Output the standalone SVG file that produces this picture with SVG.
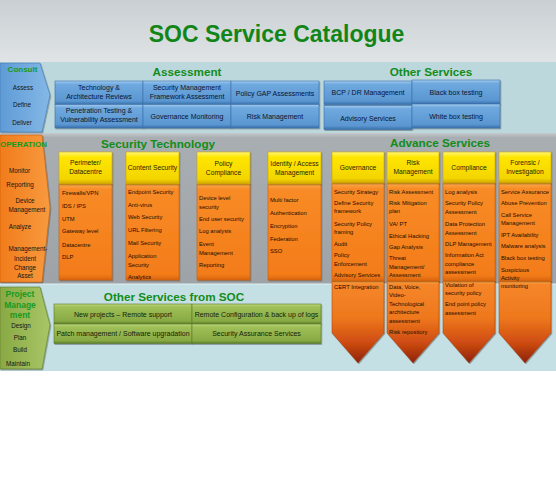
<svg xmlns="http://www.w3.org/2000/svg" width="556" height="480" viewBox="0 0 556 480">
<defs>
<linearGradient id="gTop" x1="0" y1="0" x2="0" y2="1"><stop offset="0" stop-color="#c9cfd3"/><stop offset="1" stop-color="#e0e4e6"/></linearGradient>
<linearGradient id="gGray" x1="0" y1="0" x2="0" y2="1"><stop offset="0" stop-color="#c6cacd"/><stop offset="0.03" stop-color="#a9aeb2"/><stop offset="1" stop-color="#9ea3a8"/></linearGradient>
<linearGradient id="gBlue" x1="0" y1="0" x2="0" y2="1"><stop offset="0" stop-color="#a3cbef"/><stop offset="0.14" stop-color="#6fa9df"/><stop offset="0.85" stop-color="#5a96d1"/><stop offset="1" stop-color="#3a70ac"/></linearGradient>
<linearGradient id="gYel" x1="0" y1="0" x2="0" y2="1"><stop offset="0" stop-color="#fff77e"/><stop offset="0.16" stop-color="#ffe600"/><stop offset="0.85" stop-color="#f3d500"/><stop offset="1" stop-color="#cfa400"/></linearGradient>
<linearGradient id="gOr" x1="0" y1="0" x2="0" y2="1"><stop offset="0" stop-color="#fbaa4c"/><stop offset="0.06" stop-color="#f88b26"/><stop offset="0.94" stop-color="#f37c19"/><stop offset="1" stop-color="#d9650d"/></linearGradient>
<linearGradient id="gChev" x1="0" y1="0" x2="0" y2="1"><stop offset="0" stop-color="#fbb24e"/><stop offset="0.04" stop-color="#f6862a"/><stop offset="0.45" stop-color="#ee781d"/><stop offset="0.75" stop-color="#cf4c12"/><stop offset="1" stop-color="#8c2208"/></linearGradient>
<linearGradient id="gGrn" x1="0" y1="0" x2="0" y2="1"><stop offset="0" stop-color="#bcd57a"/><stop offset="0.16" stop-color="#9fbf58"/><stop offset="0.85" stop-color="#88aa44"/><stop offset="1" stop-color="#5e7e28"/></linearGradient>
<linearGradient id="gCons" x1="0" y1="0" x2="1" y2="0"><stop offset="0" stop-color="#5f9bd6"/><stop offset="1" stop-color="#84b8e6"/></linearGradient>
<linearGradient id="gOp" x1="0" y1="0" x2="1" y2="0"><stop offset="0" stop-color="#f17c1c"/><stop offset="1" stop-color="#f89a3e"/></linearGradient>
<linearGradient id="gPm" x1="0" y1="0" x2="1" y2="0"><stop offset="0" stop-color="#89a944"/><stop offset="1" stop-color="#a8c666"/></linearGradient>
<filter id="sh" x="-10%" y="-10%" width="125%" height="130%"><feDropShadow dx="0.8" dy="1" stdDeviation="0.7" flood-color="#000" flood-opacity="0.35"/></filter>
</defs>
<style>
text{font-family:"Liberation Sans",Arial,sans-serif}
.ttl{font-size:23px;font-weight:bold;fill:#128519;text-anchor:middle}
.sec{font-size:11.7px;font-weight:bold;fill:#128c1b;text-anchor:middle}
.side{font-size:6.3px;fill:#141414;text-anchor:middle}
.sideh{font-size:8px;font-weight:bold;fill:#169a1f;text-anchor:middle}
.bt{font-size:7px;fill:#0a1530;text-anchor:middle}
.gt{font-size:7px;fill:#151e08;text-anchor:middle}
.ht{font-size:6.7px;fill:#2a1e00;text-anchor:middle}
.li{font-size:5.8px;fill:#1c0c02}
.blue{fill:url(#gBlue);stroke:#3b6fa8;stroke-width:0.6;filter:url(#sh)}
.yel{fill:url(#gYel);stroke:#c9a000;stroke-width:0.6;filter:url(#sh)}
.org{fill:url(#gOr);stroke:#c9600e;stroke-width:0.6;filter:url(#sh)}
.chev{fill:url(#gChev);stroke:#a0400e;stroke-width:0.5;filter:url(#sh)}
.grn{fill:url(#gGrn);stroke:#5c7a2a;stroke-width:0.6;filter:url(#sh)}
</style>

<!-- backgrounds -->
<rect x="0" y="0" width="556" height="480" fill="#ffffff"/>
<rect x="0" y="0" width="556" height="63" fill="url(#gTop)"/>
<rect x="0" y="62" width="556" height="71" fill="#bdd8dc"/>
<rect x="0" y="133" width="556" height="151" fill="url(#gGray)"/>
<rect x="0" y="284" width="556" height="87" fill="#c5e0e4"/>
<line x1="0" y1="284" x2="556" y2="284" stroke="#e3eef0" stroke-width="1"/>

<text class="ttl" x="276.5" y="42">SOC Service Catalogue</text>

<!-- Consult band -->
<g id="consult">
<path d="M0,63 H40 L50,95 L42,132 H0 Z" fill="url(#gCons)" stroke="#3f78b4" stroke-width="0.6" filter="url(#sh)"/>
<text class="sideh" x="22.5" y="72">Consult</text>
<text class="side" x="23" y="90">Assess</text>
<text class="side" x="22" y="107">Define</text>
<text class="side" x="22" y="125">Deliver</text>
</g>

<g id="assessment">
<text class="sec" x="187" y="76">Assessment</text>
<g id="a1"><rect class="blue" x="55" y="81" width="88" height="23.5"/><text class="bt" x="99" y="90">Technology &amp;</text><text class="bt" x="99" y="99">Architecture Reviews</text></g>
<g id="a2"><rect class="blue" x="143" y="81" width="88" height="23.5"/><text class="bt" x="187" y="90">Security Management</text><text class="bt" x="187" y="99">Framework Assessment</text></g>
<g id="a3"><rect class="blue" x="231" y="81" width="88" height="23.5"/><text class="bt" x="275" y="95.5">Policy GAP Assessments</text></g>
<g id="a4"><rect class="blue" x="55" y="104.5" width="88" height="23.5"/><text class="bt" x="99" y="113">Penetration Testing &amp;</text><text class="bt" x="99" y="122">Vulnerability Assessment</text></g>
<g id="a5"><rect class="blue" x="143" y="104.5" width="88" height="23.5"/><text class="bt" x="187" y="119">Governance Monitoring</text></g>
<g id="a6"><rect class="blue" x="231" y="104.5" width="88" height="23.5"/><text class="bt" x="275" y="119">Risk Management</text></g>
</g>

<g id="other-services">
<text class="sec" x="431" y="76">Other Services</text>
<g id="o1"><rect class="blue" x="324" y="81" width="88" height="23.5"/><text class="bt" x="368" y="95">BCP / DR Management</text></g>
<g id="o2"><rect class="blue" x="412" y="80" width="88" height="24"/><text class="bt" x="456" y="94.5">Black box testing</text></g>
<g id="o3"><rect class="blue" x="324" y="105.5" width="88" height="24"/><text class="bt" x="368" y="120.5">Advisory Services</text></g>
<g id="o4"><rect class="blue" x="412" y="104" width="88" height="24"/><text class="bt" x="456" y="118.5">White box testing</text></g>
</g>

<!-- Operation band -->
<g id="operation">
<path d="M0,135 H42 L50,208 L42,282 H0 Z" fill="url(#gOp)" stroke="#c9600e" stroke-width="0.6" filter="url(#sh)"/>
<text class="sideh" x="23.5" y="147">OPERATION</text>
<text class="side" x="19.5" y="172.5">Monitor</text>
<text class="side" x="20" y="186.5">Reporting</text>
<text class="side" x="25" y="203">Device</text>
<text class="side" x="27" y="211.5">Management</text>
<text class="side" x="20" y="229">Analyze</text>
<text class="side" x="28" y="250.5">Management-</text>
<text class="side" x="25" y="260.5">Incident</text>
<text class="side" x="25" y="270">Change</text>
<text class="side" x="25" y="278">Asset</text>
</g>

<text class="sec" x="158" y="148">Security Technology</text>
<text class="sec" x="440" y="146.5">Advance Services</text>

<g id="perimeter">
<rect class="org" x="59" y="184" width="53" height="96"/>
<rect class="yel" x="59" y="152" width="53" height="32"/>
<text class="ht" x="85.5" y="165">Perimeter/</text><text class="ht" x="85.5" y="174">Datacentre</text>
<text class="li"><tspan x="62" y="195">Firewalls/VPN</tspan><tspan x="62" y="208">IDS / IPS</tspan><tspan x="62" y="221">UTM</tspan><tspan x="62" y="233">Gateway level</tspan><tspan x="62" y="246.5">Datacentre</tspan><tspan x="62" y="259">DLP</tspan></text>
</g>

<g id="content-security">
<rect class="org" x="126" y="184" width="53" height="96"/>
<rect class="yel" x="126" y="152" width="53" height="32"/>
<text class="ht" x="152.5" y="170">Content Security</text>
<text class="li"><tspan x="128" y="194">Endpoint Security</tspan><tspan x="128" y="207">Anti-virus</tspan><tspan x="128" y="219">Web Security</tspan><tspan x="128" y="232">URL Filtering</tspan><tspan x="128" y="245">Mail Security</tspan><tspan x="128" y="258">Application</tspan><tspan x="128" y="266.5">Security</tspan><tspan x="128" y="279">Analytics</tspan></text>
</g>

<g id="policy-compliance">
<rect class="org" x="197" y="184" width="53" height="96"/>
<rect class="yel" x="197" y="152" width="53" height="32"/>
<text class="ht" x="223.5" y="165.5">Policy</text><text class="ht" x="223.5" y="174.5">Compliance</text>
<text class="li"><tspan x="199" y="200">Device level</tspan><tspan x="199" y="208.5">security</tspan><tspan x="199" y="221">End user security</tspan><tspan x="199" y="233">Log analysis</tspan><tspan x="199" y="246">Event</tspan><tspan x="199" y="254.5">Management</tspan><tspan x="199" y="267">Reporting</tspan></text>
</g>

<g id="identity-access">
<rect class="org" x="268" y="184" width="53" height="96"/>
<rect class="yel" x="268" y="152" width="53" height="32"/>
<text class="ht" x="294.5" y="165.5">Identity / Access</text><text class="ht" x="294.5" y="174.5">Management</text>
<text class="li"><tspan x="270" y="202">Multi factor</tspan><tspan x="270" y="215">Authentication</tspan><tspan x="270" y="228">Encryption</tspan><tspan x="270" y="241">Federation</tspan><tspan x="270" y="253">SSO</tspan></text>
</g>

<!-- Project management band -->
<g id="project-management">
<path d="M0,287 H40 L50,325 L42,369 H0 Z" fill="url(#gPm)" stroke="#5c7a2a" stroke-width="0.6" filter="url(#sh)"/>
<text class="sideh" x="20" y="297" style="font-size:8.5px">Project</text>
<text class="sideh" x="20" y="308" style="font-size:8.5px">Manage</text>
<text class="sideh" x="20" y="318" style="font-size:8.5px">ment</text>
<text class="side" x="21" y="327.5">Design</text>
<text class="side" x="20" y="340">Plan</text>
<text class="side" x="20" y="352">Build</text>
<text class="side" x="18" y="365.5">Maintain</text>
</g>

<g id="other-services-soc">
<text class="sec" x="174" y="301">Other Services from SOC</text>
<g id="s1"><rect class="grn" x="54" y="304" width="138" height="20"/><text class="gt" x="123" y="316.5">New projects – Remote support</text></g>
<g id="s2"><rect class="grn" x="192" y="304" width="129" height="20"/><text class="gt" x="256.5" y="316.5">Remote Configuration &amp; back up of logs</text></g>
<g id="s3"><rect class="grn" x="54" y="324" width="138" height="19.5"/><text class="gt" x="123" y="335.5">Patch management / Software upgradation</text></g>
<g id="s4"><rect class="grn" x="192" y="324" width="129" height="19.5"/><text class="gt" x="256.5" y="335.5">Security Assurance Services</text></g>
</g>

<!-- Advance services columns -->
<g id="governance">
<path class="chev" d="M332,281 h52 v52 l-26,30 l-26,-30 z"/>
<rect class="org" x="332" y="183" width="52" height="98"/>
<rect class="yel" x="332" y="152" width="52" height="31"/>
<text class="ht" x="358" y="169.5">Governance</text>
<text class="li"><tspan x="334" y="194">Security Strategy</tspan><tspan x="334" y="205">Define Security</tspan><tspan x="334" y="213">framework</tspan><tspan x="334" y="226">Security Policy</tspan><tspan x="334" y="234">framing</tspan><tspan x="334" y="246">Audit</tspan><tspan x="334" y="257">Policy</tspan><tspan x="334" y="266">Enforcement</tspan><tspan x="334" y="277">Advisory Services</tspan><tspan x="334" y="288.5">CERT Integration</tspan></text>
</g>

<g id="risk-management">
<path class="chev" d="M387,281 h52 v52 l-26,30 l-26,-30 z"/>
<rect class="org" x="387" y="183" width="52" height="98"/>
<rect class="yel" x="387" y="152" width="52" height="31"/>
<text class="ht" x="413" y="164.5">Risk</text><text class="ht" x="413" y="173.5">Management</text>
<text class="li"><tspan x="389" y="194">Risk Assessment</tspan><tspan x="389" y="205">Risk Mitigation</tspan><tspan x="389" y="213">plan</tspan><tspan x="389" y="226">VA/ PT</tspan><tspan x="389" y="237.5">Ethical Hacking</tspan><tspan x="389" y="249">Gap Analysis</tspan><tspan x="389" y="260">Threat</tspan><tspan x="389" y="268.5">Management/</tspan><tspan x="389" y="277">Assessment</tspan><tspan x="389" y="288.5">Data, Voice,</tspan><tspan x="389" y="297">Video-</tspan><tspan x="389" y="305.5">Technological</tspan><tspan x="389" y="314">architecture</tspan><tspan x="389" y="322.5">assessment</tspan><tspan x="389" y="334">Risk repository</tspan></text>
</g>

<g id="compliance">
<path class="chev" d="M443,281 h52 v52 l-26,30 l-26,-30 z"/>
<rect class="org" x="443" y="183" width="52" height="98"/>
<rect class="yel" x="443" y="152" width="52" height="31"/>
<text class="ht" x="469" y="169.5">Compliance</text>
<text class="li"><tspan x="445" y="193.5">Log analysis</tspan><tspan x="445" y="205">Security Policy</tspan><tspan x="445" y="213.5">Assessment</tspan><tspan x="445" y="226">Data Protection</tspan><tspan x="445" y="234.5">Assessment</tspan><tspan x="445" y="246">DLP Management</tspan><tspan x="445" y="257">Information Act</tspan><tspan x="445" y="265.5">compliance</tspan><tspan x="445" y="274">assessment</tspan><tspan x="445" y="286.5">Violation of</tspan><tspan x="445" y="295">security policy</tspan><tspan x="445" y="306">End point policy</tspan><tspan x="445" y="314.5">assessment</tspan></text>
</g>

<g id="forensic">
<path class="chev" d="M499,281 h52 v52 l-26,30 l-26,-30 z"/>
<rect class="org" x="499" y="183" width="52" height="98"/>
<rect class="yel" x="499" y="152" width="52" height="31"/>
<text class="ht" x="525" y="164.5">Forensic /</text><text class="ht" x="525" y="173.5">Investigation</text>
<text class="li"><tspan x="501" y="194">Service Assurance</tspan><tspan x="501" y="205">Abuse Prevention</tspan><tspan x="501" y="216.5">Call Service</tspan><tspan x="501" y="225">Management</tspan><tspan x="501" y="237">IPT Availability</tspan><tspan x="501" y="248">Malware analysis</tspan><tspan x="501" y="260">Black box testing</tspan><tspan x="501" y="271.5">Suspicious</tspan><tspan x="501" y="279.5">Activity</tspan><tspan x="501" y="288">monitoring</tspan></text>
</g>

<g id="connectors"/>
</svg>
